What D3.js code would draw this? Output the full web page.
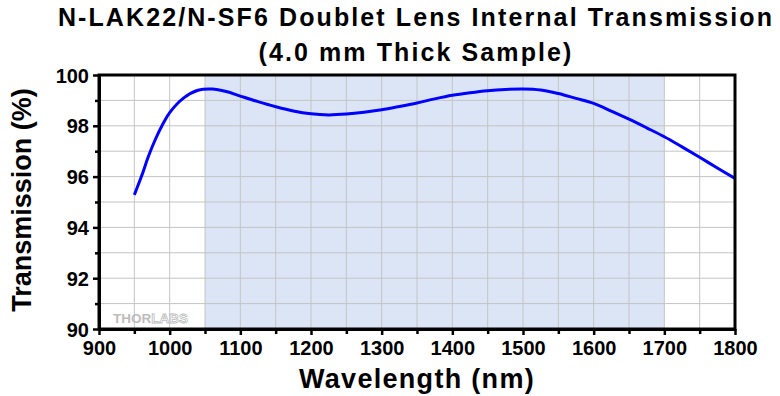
<!DOCTYPE html>
<html>
<head>
<meta charset="utf-8">
<script src="https://cdn.jsdelivr.net/npm/d3@7"></script>
<style>
  body { margin: 0; background: #fff; }
  text { font-family: Arial, "Liberation Sans", sans-serif; }
</style>
</head>
<body>
<div id="chart"></div>
<script>
var wavelengths = [950, 960, 970, 980, 990, 1000, 1020, 1040, 1060, 1080, 1100, 1125, 1150, 1175, 1200, 1225, 1250, 1275, 1300, 1325, 1350, 1375, 1400, 1425, 1450, 1475, 1500, 1525, 1550, 1575, 1600, 1625, 1650, 1675, 1700, 1725, 1750, 1775, 1800];
var transmission = [95.28, 96.0, 96.8, 97.48, 98.05, 98.52, 99.1, 99.4, 99.45, 99.35, 99.17, 98.95, 98.75, 98.58, 98.47, 98.43, 98.46, 98.53, 98.63, 98.76, 98.9, 99.06, 99.2, 99.3, 99.38, 99.43, 99.45, 99.41, 99.27, 99.08, 98.88, 98.58, 98.26, 97.92, 97.57, 97.17, 96.76, 96.34, 95.93];
var shadedBand = [1050, 1700];
var xTicks = [900, 1000, 1100, 1200, 1300, 1400, 1500, 1600, 1700, 1800];
var yTicks = [90, 92, 94, 96, 98, 100];
var titleLines = ["N-LAK22/N-SF6 Doublet Lens Internal Transmission", "(4.0 mm Thick Sample)"];

var margin = { top: 75, right: 45, bottom: 67, left: 99 },
  width = 780 - margin.left - margin.right,
  height = 396 - margin.top - margin.bottom;

var root = d3.select("#chart").append("svg")
  .attr("width", 780)
  .attr("height", 396);

var svg = root.append("g")
  .attr("transform", "translate(" + margin.left + "," + margin.top + ")");

var x = d3.scaleLinear().domain([900, 1800]).range([0, width]);
var y = d3.scaleLinear().domain([90, 100]).range([height, 0]);

// shaded band
svg.append("rect")
  .attr("x", x(shadedBand[0]))
  .attr("y", 0)
  .attr("width", x(shadedBand[1]) - x(shadedBand[0]))
  .attr("height", height)
  .attr("fill", "#dce5f6");

// grid
svg.append("g")
  .selectAll("line")
  .data(d3.range(950, 1800, 50))
  .enter()
  .append("line")
  .attr("x1", function (d) { return x(d); })
  .attr("x2", function (d) { return x(d); })
  .attr("y1", 0)
  .attr("y2", height)
  .attr("stroke", "#c4c4c4")
  .attr("stroke-width", 1);

svg.append("g")
  .selectAll("line")
  .data(d3.range(91, 100, 1))
  .enter()
  .append("line")
  .attr("x1", 0)
  .attr("x2", width)
  .attr("y1", function (d) { return y(d); })
  .attr("y2", function (d) { return y(d); })
  .attr("stroke", "#c4c4c4")
  .attr("stroke-width", 1);

// watermark
var wm = svg.append("text")
  .attr("x", 14)
  .attr("y", height - 6)
  .attr("font-size", 13.5)
  .attr("font-weight", "bold");
wm.append("tspan").text("THOR").attr("fill", "#bdbdbd");
wm.append("tspan").text("LABS").attr("fill", "#fff").attr("stroke", "#bdbdbd").attr("stroke-width", 0.8);

// curve
var line = d3.line()
  .x(function (d, i) { return x(wavelengths[i]); })
  .y(function (d) { return y(d); })
  .curve(d3.curveCatmullRom);

svg.append("path")
  .datum(transmission)
  .attr("d", line)
  .attr("fill", "none")
  .attr("stroke", "#0000ff")
  .attr("stroke-width", 3);

// frame
svg.append("rect")
  .attr("x", 0)
  .attr("y", 0)
  .attr("width", width)
  .attr("height", height)
  .attr("fill", "none")
  .attr("stroke", "#000")
  .attr("stroke-width", 3);

// axes
var xAxis = svg.append("g")
  .attr("transform", "translate(0," + height + ")")
  .call(d3.axisBottom(x).tickValues(xTicks).tickFormat(d3.format("d")).tickSize(6).tickSizeOuter(0));
svg.append("g")
  .attr("transform", "translate(0," + height + ")")
  .call(d3.axisBottom(x).tickValues(d3.range(950, 1800, 100)).tickFormat("").tickSize(5).tickSizeOuter(0))
  .select(".domain").remove();

var yAxis = svg.append("g")
  .call(d3.axisLeft(y).tickValues(yTicks).tickFormat(d3.format("d")).tickSize(6).tickSizeOuter(0));
svg.append("g")
  .call(d3.axisLeft(y).tickValues([91, 93, 95, 97, 99]).tickFormat("").tickSize(4).tickSizeOuter(0))
  .select(".domain").remove();

svg.selectAll(".tick line").attr("stroke", "#000").attr("stroke-width", 2.5);
svg.selectAll(".domain").attr("stroke", "#000").attr("stroke-width", 3);

xAxis.selectAll("text")
  .attr("font-size", 20)
  .attr("font-weight", "bold")
  .attr("fill", "#000")
  .attr("y", 10)
  .attr("dy", "0.8em");
yAxis.selectAll("text")
  .attr("font-size", 20)
  .attr("font-weight", "bold")
  .attr("fill", "#000")
  .attr("x", -10)
  .attr("dy", "0.35em");

// axis labels
root.append("text")
  .attr("x", margin.left + width / 2)
  .attr("y", 388)
  .attr("text-anchor", "middle")
  .attr("font-size", 27)
  .attr("font-weight", "bold")
  .attr("letter-spacing", "1.3px")
  .text("Wavelength (nm)");

root.append("text")
  .attr("transform", "translate(31," + (margin.top + height / 2 - 2) + ") rotate(-90)")
  .attr("text-anchor", "middle")
  .attr("font-size", 27)
  .attr("font-weight", "bold")
  .text("Transmission (%)");

// title
root.selectAll(".title")
  .data(titleLines)
  .enter()
  .append("text")
  .attr("class", "title")
  .attr("x", 416)
  .attr("y", function (d, i) { return 26 + i * 35; })
  .attr("text-anchor", "middle")
  .attr("font-size", 25)
  .attr("font-weight", "bold")
  .attr("letter-spacing", "2.1px")
  .text(function (d) { return d; });
</script>
</body>
</html>
